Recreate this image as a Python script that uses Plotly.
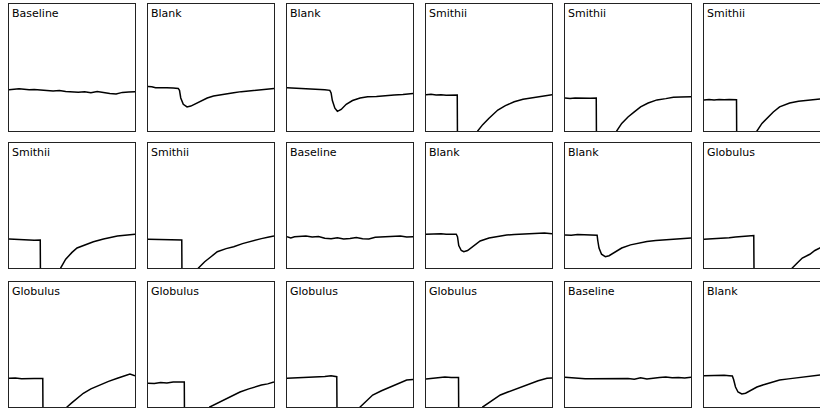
import plotly.graph_objects as go

# ---------------- data (x in % of sweep, y in % of panel height) ----------------
titles = ["Baseline", "Blank", "Blank", "Smithii", "Smithii", "Smithii",
          "Smithii", "Smithii", "Baseline", "Blank", "Blank", "Globulus",
          "Globulus", "Globulus", "Globulus", "Globulus", "Baseline", "Blank"]

x01 = [0,4,8,12,16,20,25,30,35,40,45,50,55,60,65,70,75,80,85,90,95,100]
y01 = [32.5,32.8,33.2,32.9,32.4,32.6,32.0,31.8,31.5,31.9,31.2,30.8,30.6,30.9,30.2,31.0,30.1,29.6,29.2,30.4,30.8,31.0]

x02 = [0,3,6,10,15,20,24,25,26,28,31,34,38,42,47,52,57,62,68,74,80,86,92,96,100]
y02 = [35,34.8,34,34.2,34,33.8,33.5,32,26,21,19,19.6,21.5,24,26,27.5,28.5,29.5,30.2,31,31.5,32,32.8,33,33.4]

x03 = [0,5,10,15,20,25,30,34,35,36,38,40,43,47,52,58,64,71,78,85,92,100]
y03 = [34,33.8,33.6,33.5,33,32.8,32.5,32,30,24,18,15.5,17,21,24,26,27,27.2,28,28.4,28.8,29.5]

x04 = [0,4,8,12,16,20,24.8,25.2,40.5,41,45,50,57,63,70,77,84,90,95,100]
y04 = [28.5,29,28.4,28.6,28.2,28.3,28.3,-50,-50,0,5,10,16.5,20,23,25,26,27,27.5,28.5]

x05 = [0,4,8,12,16,20,24.8,25.2,40.5,41,45,50,55,60,66,73,80,86,92,100]
y05 = [26,25.6,26,25.8,26.2,25.8,26,-50,-50,0,6,11,15,19,22,24.5,25.5,26.5,26.8,27]

x06 = [0,4,8,12,16,20,25.8,26.2,41.5,42,46,50,55,60,68,75,82,88,95,100]
y06 = [24.5,24.8,24.4,24.8,24.6,24.9,24.7,-50,-50,0,6,10,15,19,22,23.5,24.4,25,25.5,26]

x07 = [0,5,10,15,20,24.8,25.2,40.5,41,45,50,54,60,67,75,82,86,92,97,100]
y07 = [23.2,22.8,22.5,22.6,22.2,22.4,-50,-50,0,7,12.5,16,18.5,21,23.2,24.8,25.6,26.2,26.8,27]

x08 = [0,5,10,15,20,26.8,27.2,39.5,40,45,50,55,62,68,75,82,90,96,100]
y08 = [23,22.8,23.2,22.6,22.8,22.5,-50,-50,0,5,9,13,15.5,17,19.5,21.6,23.5,24.8,25.6]

x09 = [0,3,6,10,15,20,25,30,35,40,45,50,55,60,65,70,75,80,85,90,95,100]
y09 = [25,24,25,25.2,25.6,24.8,25.2,23.8,23.4,24.2,23.2,23.6,24.4,23.4,23.2,24.6,25,25.2,25.6,25.6,24.8,25]

x10 = [0,4,8,12,16,20,24,25,26,28,30,33,37,43,50,57,64,70,76,82,88,94,100]
y10 = [27,27.2,27,27.4,27,27.2,27,25,18,14,13,14,17,21.6,24,25.5,26.4,26.8,27,27.2,27.6,28,27.4]

x11 = [0,5,10,15,20,25.5,26,27,29,32,35,40,45,52,58,65,72,77,84,90,95,100]
y11 = [26.4,26.2,26.8,26.6,26.6,26.2,22,16,11,9,9.8,13,16,18.5,20,21.2,22,22.4,23,23.5,23.8,24]

x12 = [0,5,10,15,20,25,30,35,39.5,40,69,70,74,78,84,88,92,96,100]
y12 = [23,23.2,23.4,24,24.2,24.8,25,25.6,26,-50,-50,0,4,8,11,14,16,18,20]

x13 = [0,5,10,15,20,26.8,27.2,45.5,46,50,54,59,65,72,79,86,92,96,100]
y13 = [23,23.2,22.6,23,22.8,22.8,-50,-50,0,3.5,7,11,14.5,17.6,20.5,23,25,26.4,25]

x14 = [0,5,10,15,20,25,28.8,29.2,48.5,49,54,58,63,68,73,80,86,90,95,100]
y14 = [19,18.8,19.6,19.2,20,20,20,-50,-50,0,2.5,4.5,7,9.5,12,14.5,16.5,17.6,18.5,20]

x15 = [0,5,10,15,20,25,30,35,37,39.5,40,57.5,58,63,68,75,82,88,95,100]
y15 = [23,23.2,23.2,23.6,23.8,24,24.4,25,24.8,24.2,-50,-50,0,5,9.6,13,16,18.8,21.6,22]

x16 = [0,5,10,15,20,25.8,26.2,44.5,45,50,55,59,65,70,75,82,89,96,100]
y16 = [22.4,23,23.2,24,23.6,23.6,-50,-50,0,3.5,7,9.6,12,14,16,18.5,21,23,23.2]

x17 = [0,4,8,12,16,20,25,30,35,40,45,50,55,60,65,70,75,80,85,90,95,100]
y17 = [23.8,23.4,23.6,22.6,22.6,22.6,22.6,22.6,22.6,22.6,23.2,22.8,22.2,23.4,22.4,23.2,23.6,24,23.4,23.6,23.2,23.8]

x18 = [0,4,8,12,16,20,22.5,23.5,25,27,30,33,37,42,48,54,60,67,74,80,87,93,100]
y18 = [25,25.2,24.8,25,25.4,25,24.8,22,16,12,10.4,11,13.5,16,18,19.8,21.6,22.5,23.4,24.4,25.6,25.8,26]

xs = [x01,x02,x03,x04,x05,x06,x07,x08,x09,x10,x11,x12,x13,x14,x15,x16,x17,x18]
ys = [y01,y02,y03,y04,y05,y06,y07,y08,y09,y10,y11,y12,y13,y14,y15,y16,y17,y18]

# ---------------- layout geometry (pixels) ----------------
W, H = 820, 408
col_left = [9, 148, 287, 426, 565, 704]
panel_w = 126
row_top = [4, 143, 282]
row_bot = [131, 268, 407]

fig = go.Figure()
layout = dict(width=W, height=H, margin=dict(l=0, r=0, t=0, b=0),
              paper_bgcolor="white", plot_bgcolor="white", showlegend=False,
              annotations=[])

for i in range(18):
    r, c = divmod(i, 6)
    n = i + 1
    xa = "x" if n == 1 else f"x{n}"
    ya = "y" if n == 1 else f"y{n}"
    xkey = "xaxis" if n == 1 else f"xaxis{n}"
    ykey = "yaxis" if n == 1 else f"yaxis{n}"
    left = col_left[c]
    right = min(left + panel_w, W)
    xmax = 100.0 * (right - left) / panel_w
    fig.add_trace(go.Scatter(x=xs[i], y=ys[i], xaxis=xa, yaxis=ya, mode="lines",
                             line=dict(color="black", width=1.5), hoverinfo="skip"))
    common = dict(showticklabels=False, showgrid=False, zeroline=False, ticks="",
                  showline=True, linecolor="#222", linewidth=1, fixedrange=True)
    layout[xkey] = dict(common, domain=[left / W, right / W], range=[0, xmax],
                        anchor=ya, mirror=True)
    layout[ykey] = dict(common, domain=[1 - row_bot[r] / H, 1 - row_top[r] / H],
                        range=[0, 100], anchor=xa, mirror=(right - left == panel_w))
    layout["annotations"].append(dict(
        text=titles[i], xref=f"{xa} domain", yref=f"{ya} domain", x=0, y=1,
        xanchor="left", yanchor="top", xshift=1, yshift=-1, showarrow=False,
        font=dict(family="DejaVu Sans", size=11, color="black")))

fig.update_layout(**layout)
fig.write_html("out.html")
